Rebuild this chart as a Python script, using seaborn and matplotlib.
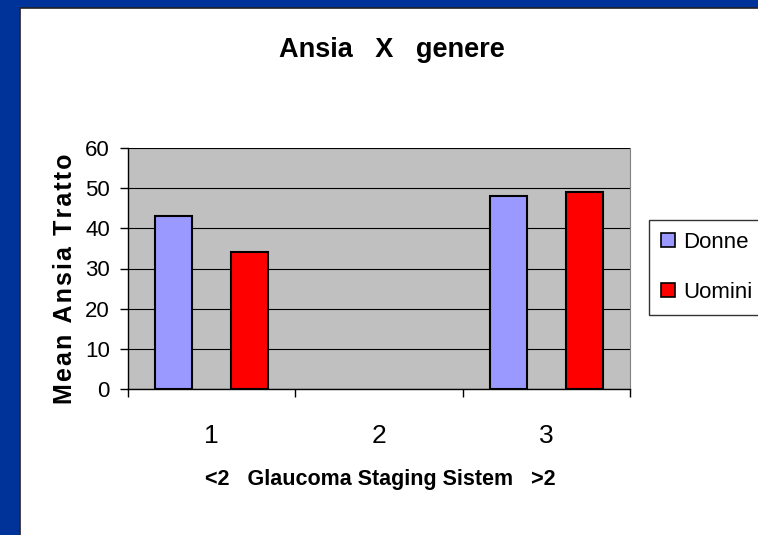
import numpy as np
import pandas as pd
import seaborn as sns
import matplotlib.pyplot as plt
from matplotlib.patches import Rectangle, Patch

# Dati
categorie = ['1', '2', '3']
donne = [43, np.nan, 48]
uomini = [34, np.nan, 49]
serie = ['Donne', 'Uomini']
colori = ['#9999FF', '#FF0000']

df = pd.DataFrame({
    'Gruppo': categorie * 2,
    'Sesso': [serie[0]] * 3 + [serie[1]] * 3,
    'Valore': donne + uomini,
})

plt.rcParams['font.family'] = ['Liberation Sans', 'DejaVu Sans']

fig = plt.figure(figsize=(7.58, 5.35), dpi=100)
fig.patch.set_facecolor('#003399')
# area bianca della slide
fig.patches.append(Rectangle((20 / 758, -0.01), 1, 1.01 - 8 / 535, transform=fig.transFigure,
                             facecolor='white', edgecolor='#222222', lw=1.2, zorder=-10))

ax = fig.add_axes([128 / 758, 1 - 389 / 535, 502 / 758, 241 / 535])
ax.set_facecolor('#C0C0C0')

sns.barplot(data=df, x='Gruppo', y='Valore', hue='Sesso', order=categorie,
            hue_order=serie, palette=colori, saturation=1, width=0.91, gap=0.52,
            edgecolor='black', linewidth=1.5, ax=ax, legend=False, zorder=3)

ax.set_ylim(0, 60)
ax.set_yticks(range(0, 61, 10))
ax.set_xlim(-0.5, 2.5)
ax.yaxis.grid(True, color='black', lw=0.8)
ax.xaxis.grid(False)
ax.set_axisbelow(True)

ax.set_xticks([0, 1, 2])
ax.set_xticks([-0.5, 0.5, 1.5, 2.5], minor=True)
ax.tick_params(axis='x', which='major', length=0, pad=25, labelsize=19)
ax.tick_params(axis='x', which='minor', length=6, width=1, color='black')
ax.tick_params(axis='y', length=6, width=1, pad=7, labelsize=16)

for s in ['left', 'bottom']:
    ax.spines[s].set_color('black')
    ax.spines[s].set_linewidth(1)
ax.spines['right'].set_color('#808080')
ax.spines['top'].set_visible(False)

ax.set_xlabel('')
ax.set_ylabel('')

fig.text(392 / 758, 1 - 50 / 535, 'Ansia   X   genere', ha='center', va='center',
         fontsize=19.5, fontweight='bold')
ylab = '\u200a'.join('Mean Ansia Tratto')
fig.text(65 / 758, 1 - 279 / 535, ylab, rotation=90,
         ha='center', va='center', fontsize=18, fontweight='bold')
fig.text(380 / 758, 1 - 480 / 535, '<2   Glaucoma Staging Sistem   >2', ha='center',
         va='center', fontsize=15.5, fontweight='bold')

handles = [Patch(facecolor=c, edgecolor='black', lw=1.2) for c in colori]
leg = fig.legend(handles, serie, loc='upper left', bbox_to_anchor=(649 / 758, 1 - 220 / 535),
                 fontsize=16, frameon=True, fancybox=False, edgecolor='black',
                 handlelength=0.6, handleheight=0.6, handletextpad=0.4,
                 labelspacing=1.3, borderpad=0.55, borderaxespad=0)
leg.get_frame().set_linewidth(1)

fig.savefig('out.png', dpi=100, facecolor=fig.get_facecolor())
